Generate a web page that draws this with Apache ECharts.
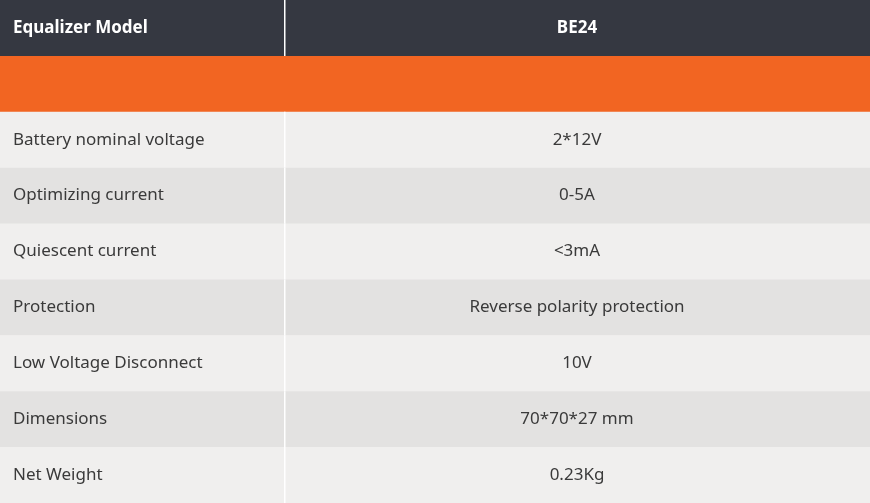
<!DOCTYPE html>
<html><head><meta charset="utf-8">
<script src="https://cdn.jsdelivr.net/npm/echarts@6/dist/echarts.min.js"></script>
<style>html,body{margin:0;padding:0;background:#fff}#c{width:870px;height:503px}</style>
</head><body><div id="c"></div>
<script>
const headerLabels = ['Equalizer Model', 'BE24'];
const rowLabels = ['Battery nominal voltage','Optimizing current','Quiescent current','Protection','Low Voltage Disconnect','Dimensions','Net Weight'];
const rowValues = ['2*12V','0-5A','<3mA','Reverse polarity protection','10V','70*70*27 mm','0.23Kg'];

const rows = [['header', headerLabels[0], headerLabels[1]], ['band', '', '']];
rowLabels.forEach((l, i) => rows.push(['row' + (i % 2), l, rowValues[i]]));
const cats = rows.map((r, i) => String(i));
const colSplit = 284 / 870;
const fills = {header:'#353841', band:'#F26522', row0:'#F0EFEE', row1:'#E3E2E1'};

const chart = echarts.init(document.getElementById('c'));
chart.setOption({
  animation:false,
  grid:{left:0,right:0,top:0,bottom:0},
  xAxis:{type:'value',min:0,max:1,show:false},
  yAxis:{type:'category',data:cats,inverse:true,show:false},
  series:[{
    type:'custom',
    data:rows.map((r,i)=>[i]),
    renderItem(params, api){
      const i = api.value(0);
      const r = rows[i];
      const c = api.coord([0, i]);
      const h = api.size([0, 1])[1];
      const y0 = c[1] - h/2;
      const x1 = api.coord([colSplit, i])[0];
      const x2 = api.coord([1, i])[0];
      const isH = r[0] === 'header';
      const col = isH ? '#ffffff' : '#3a3a3a';
      const font = (isH ? 'bold ' : '') + '17px "Noto Sans", Lato, sans-serif';
      const ch = [{type:'rect',shape:{x:0,y:y0,width:x2,height:h+0.5},style:{fill:fills[r[0]]}}];
      if (r[0] !== 'band') {
        ch.push({type:'rect',shape:{x:x1,y:y0,width:1.5,height:h+0.5},style:{fill:'#ffffff'}});
        ch.push({type:'text',x:13,y:c[1],style:{text:r[1],fill:col,font:font,textVerticalAlign:'middle'}});
        ch.push({type:'text',x:(x1+x2)/2,y:c[1],style:{text:r[2],fill:col,font:font,textAlign:'center',textVerticalAlign:'middle'}});
      }
      return {type:'group',children:ch};
    }
  }]
});
</script></body></html>
